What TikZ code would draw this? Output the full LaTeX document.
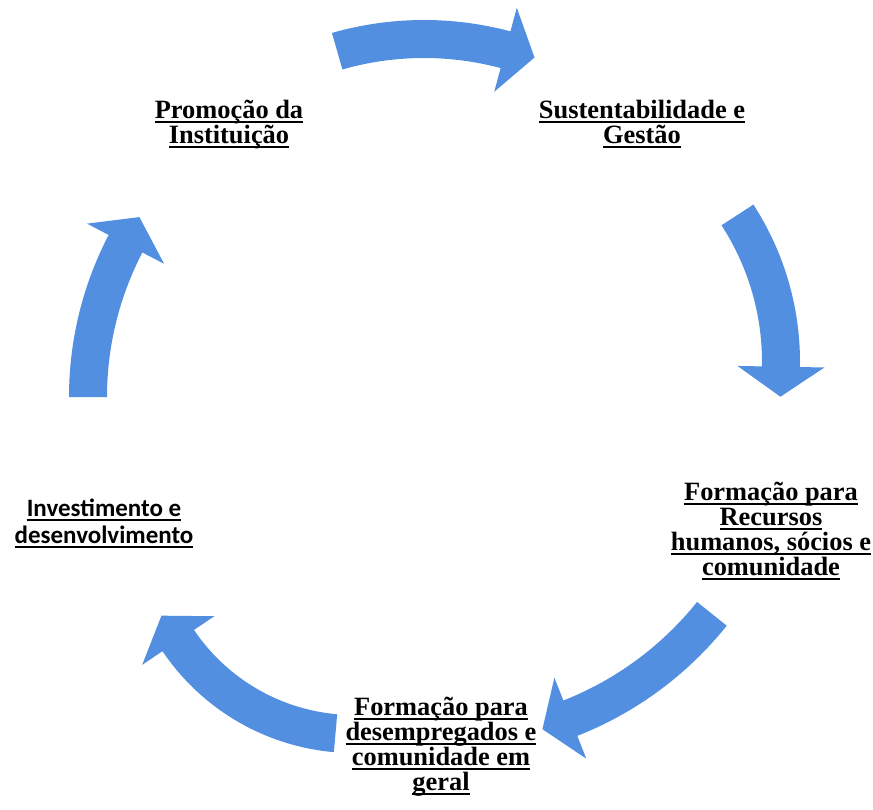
\documentclass[tikz,border=0pt]{standalone}
\usepackage{fontspec}
\setmainfont{Liberation Serif}
\newfontfamily\calibrifont{Carlito}
\usepackage{tikz}
\usetikzlibrary{calc}

\definecolor{cycleblue}{RGB}{82,143,224}
\newsavebox\ulsave
\newcommand{\ulbox}[1]{\sbox\ulsave{#1}\rlap{\rule[-2.5pt]{\wd\ulsave}{1pt}}\usebox\ulsave}

\begin{document}
\begin{tikzpicture}[x=0.5pt, y=-0.5pt,
	stagelabel/.style={font=\fontsize{13.2}{12.5}\selectfont\bfseries, align=center, inner sep=0pt, anchor=base},
	stagelabelsans/.style={stagelabel, font=\fontsize{12.5}{13.5}\selectfont\calibrifont\bfseries}]
			\useasboundingbox (0,0) rectangle (873,809);
			\coordinate (c1) at (424,354);
			\coordinate (c2) at (511,362);
			\coordinate (c3) at (445,400);
			\coordinate (c4) at (354,522);
			\coordinate (c5) at (420,397);
			% top arrow
			\fill[cycleblue] ($(c1)+(-106:334)$) arc[start angle=-106, end angle=-75, radius=334]
				-- ($(c1)+(-75:358.5)$) -- ($(c1)+(-75:315)+(15:30)$) -- ($(c1)+(-75:271.5)$)
				-- ($(c1)+(-75:296)$) arc[start angle=-75, end angle=-106, radius=296] -- cycle;
			% right arrow
			\fill[cycleblue] ($(c2)+(-33:289)$) arc[start angle=-33, end angle=1, radius=289]
				-- ($(c2)+(1:313.5)$) -- ($(c2)+(1:270)+(91:30)$) -- ($(c2)+(1:226.5)$)
				-- ($(c2)+(1:251)$) arc[start angle=1, end angle=-33, radius=251] -- cycle;
			% lower right arrow
			\fill[cycleblue] ($(c3)+(38.7:361)$) arc[start angle=38.7, end angle=68.5, radius=361]
				-- ($(c3)+(68.5:385.5)$) -- ($(c3)+(68.5:342)+(158.5:30)$) -- ($(c3)+(68.5:298.5)$)
				-- ($(c3)+(68.5:323)$) arc[start angle=68.5, end angle=38.7, radius=323] -- cycle;
			% lower left arrow
			\fill[cycleblue] ($(c4)+(95:231)$) arc[start angle=95, end angle=146, radius=231]
				-- ($(c4)+(146:255.5)$) -- ($(c4)+(146:212)+(236:30)$) -- ($(c4)+(146:168.5)$)
				-- ($(c4)+(146:193)$) arc[start angle=146, end angle=95, radius=193] -- cycle;
			% left arrow
			\fill[cycleblue] ($(c5)+(180:351)$) arc[start angle=180, end angle=207.5, radius=351]
				-- ($(c5)+(207.5:375.5)$) -- ($(c5)+(207.5:332)+(297.5:30)$) -- ($(c5)+(207.5:288.5)$)
				-- ($(c5)+(207.5:313)$) arc[start angle=207.5, end angle=180, radius=313] -- cycle;
			% labels (base = last line)
			\node[stagelabel] (promocao) at (229,143) {\ulbox{Promoção da}\\\ulbox{Instituição}};
			\node[stagelabel] (sustent) at (642,143) {\ulbox{Sustentabilidade e}\\\ulbox{Gestão}};
			\node[stagelabel] (recursos) at (771,575) {\ulbox{Formação para}\\\ulbox{Recursos}\\\ulbox{humanos, sócios e}\\\ulbox{comunidade}};
			\node[stagelabel] (desempreg) at (441,790) {\ulbox{Formação para}\\\ulbox{desempregados e}\\\ulbox{comunidade em}\\\ulbox{geral}};
			\node[stagelabelsans] (investim) at (104,543) {\ulbox{Investimento e}\\\ulbox{desenvolvimento}};
			\end{tikzpicture}
\end{document}
